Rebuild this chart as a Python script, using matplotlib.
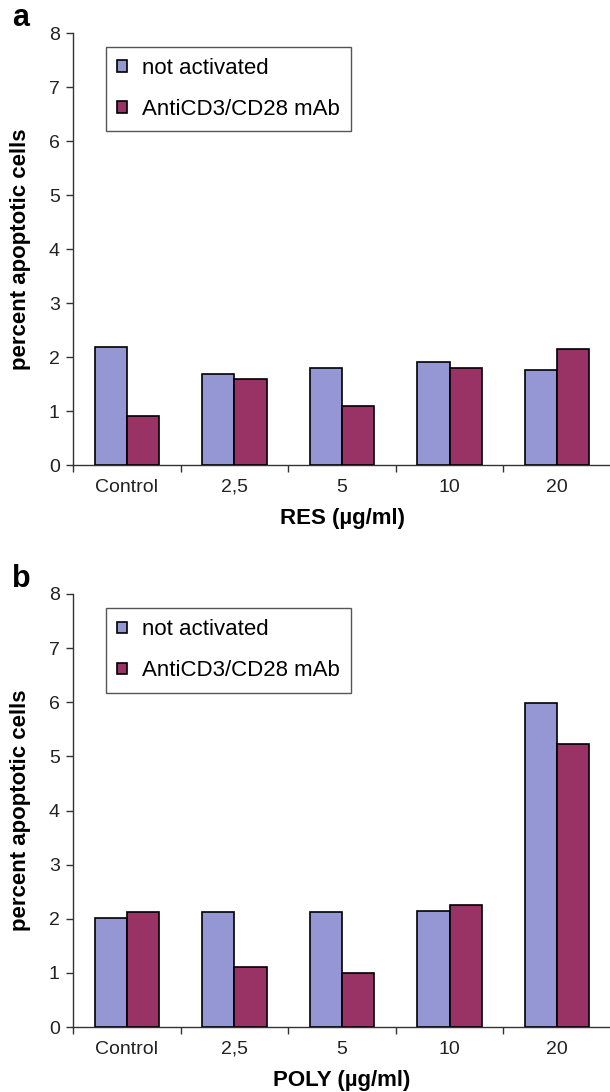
import numpy as np
import matplotlib
matplotlib.use('Agg')
import matplotlib.pyplot as plt

plt.rcParams['font.family'] = ['Liberation Sans', 'DejaVu Sans']

categories = ['Control', '2,5', '5', '10', '20']
series_names = ['not activated', 'AntiCD3/CD28 mAb']

res_not_activated = [2.19, 1.69, 1.80, 1.90, 1.76]
res_activated = [0.91, 1.59, 1.09, 1.80, 2.15]

poly_not_activated = [2.01, 2.12, 2.12, 2.15, 5.99]
poly_activated = [2.12, 1.10, 0.99, 2.26, 5.22]

panels = [
    ('a', 'RES (µg/ml)', res_not_activated, res_activated),
    ('b', 'POLY (µg/ml)', poly_not_activated, poly_activated),
]

BLUE = '#9497D4'
RED = '#993366'
AXCOL = '#333333'

W, H = 610, 1092
fig = plt.figure(figsize=(W / 100, H / 100), dpi=100)

# axes boxes in pixels: (left, top, right, bottom)
boxes = [(73, 33, 611, 465), (73, 594, 611, 1027)]

for (letter, xlabel, s1, s2), (l, t, r, b) in zip(panels, boxes):
    ax = fig.add_axes([l / W, 1 - b / H, (r - l) / W, (b - t) / H])
    x = np.arange(len(categories))
    w = 0.3
    ax.bar(x - w / 2, s1, w, color=BLUE, edgecolor='black', linewidth=1.2,
           label=series_names[0], zorder=3)
    ax.bar(x + w / 2, s2, w, color=RED, edgecolor='black', linewidth=1.2,
           label=series_names[1], zorder=3)

    ax.set_xlim(-0.5, len(categories) - 0.5)
    ax.set_ylim(0, 8)
    ax.set_yticks(range(0, 9))
    ax.tick_params(axis='y', labelsize=14, length=5, width=1, color=AXCOL,
                   pad=4.5, labelcolor='#222222')

    # ticks between groups, labels at group centres
    ax.set_xticks(np.arange(0, len(categories) + 1) - 0.5)
    ax.set_xticklabels([])
    ax.set_xticks(x, minor=True)
    ax.set_xticklabels(categories, minor=True)
    ax.tick_params(axis='x', which='major', length=5, width=1, color=AXCOL)
    ax.tick_params(axis='x', which='minor', length=0, labelsize=14, pad=10,
                   labelcolor='#222222')

    for side in ['top', 'right']:
        ax.spines[side].set_visible(False)
    for side in ['left', 'bottom']:
        ax.spines[side].set_color(AXCOL)
        ax.spines[side].set_linewidth(1)

    ax.set_ylabel('percent apoptotic cells', fontsize=16, fontweight='bold')
    ax.yaxis.set_label_coords(-0.078, 0.5)
    ax.set_xlabel(xlabel, fontsize=16, fontweight='bold', labelpad=9)

    leg = ax.legend(loc='upper left', bbox_to_anchor=(0.0613, 0.967),
                    borderaxespad=0, fontsize=16, fancybox=False,
                    framealpha=1, edgecolor='#555555', handlelength=0.45,
                    handleheight=0.45, handletextpad=0.65, labelspacing=0.9,
                    borderpad=0.5)
    leg.get_frame().set_linewidth(1)

    fig.text(21 / W, 1 - (t - 15) / H, letter, fontsize=22, fontweight='bold',
             ha='center', va='center')

fig.savefig('out.png', dpi=100)
